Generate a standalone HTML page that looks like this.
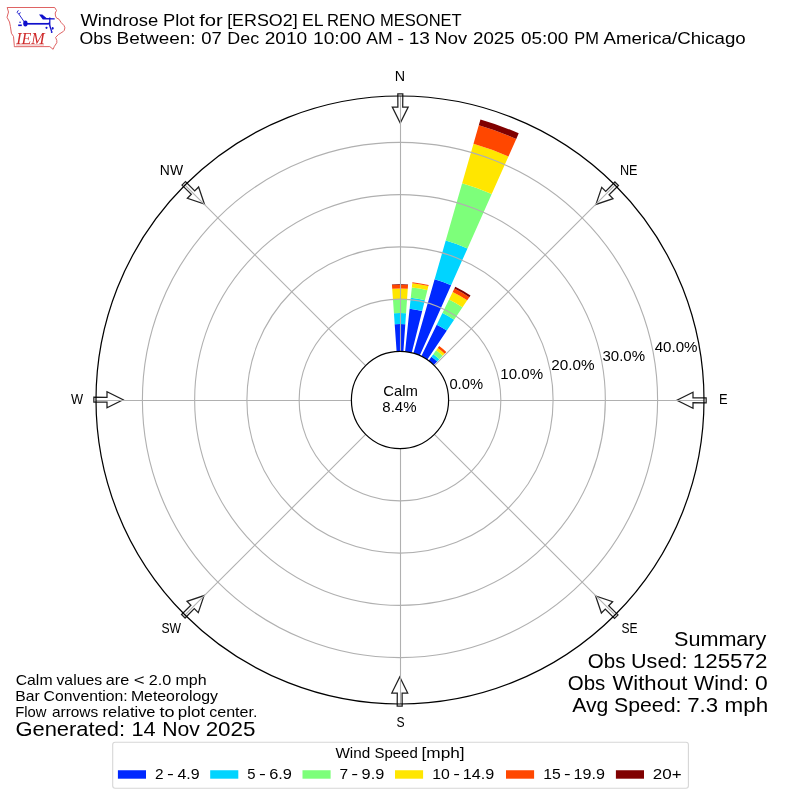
<!DOCTYPE html>
<html><head><meta charset="utf-8"><title>Windrose Plot for [ERSO2] EL RENO MESONET</title>
<style>
html,body{margin:0;padding:0;background:#fff}
svg{display:block;will-change:transform}
text{font-family:"Liberation Sans",sans-serif;fill:#000}
.s{font-family:"Liberation Serif",serif;font-style:italic;fill:#cf2a2a}
</style></head><body>
<svg width="800" height="800" viewBox="0 0 800 800">
<rect width="800" height="800" fill="#fff"/>
<g shape-rendering="geometricPrecision">
<path d="M396.61 351.52L394.7 324.26A75.93 75.93 0 0 1 405.3 324.26L403.39 351.52A48.6 48.6 0 0 0 396.61 351.52Z" fill="#0028ff"/>
<path d="M394.7 324.26L393.94 313.31A86.9 86.9 0 0 1 406.06 313.31L405.3 324.26A75.93 75.93 0 0 0 394.7 324.26Z" fill="#00d4ff"/>
<path d="M393.94 313.31L392.96 299.29A100.95 100.95 0 0 1 407.04 299.29L406.06 313.31A86.9 86.9 0 0 0 393.94 313.31Z" fill="#7dff7a"/>
<path d="M392.96 299.29L392.21 288.66A111.61 111.61 0 0 1 407.79 288.66L407.04 299.29A100.95 100.95 0 0 0 392.96 299.29Z" fill="#ffe600"/>
<path d="M392.21 288.66L391.96 285.01A115.27 115.27 0 0 1 408.04 285.01L407.79 288.66A111.61 111.61 0 0 0 392.21 288.66Z" fill="#ff4700"/>
<path d="M391.96 285.01L391.92 284.38A115.9 115.9 0 0 1 408.08 284.38L408.04 285.01A115.27 115.27 0 0 0 391.96 285.01Z" fill="#800000"/>
<path d="M405.08 351.67L409.59 308.74A91.76 91.76 0 0 1 422.2 310.97L411.76 352.84A48.6 48.6 0 0 0 405.08 351.67Z" fill="#0028ff"/>
<path d="M409.59 308.74L410.75 297.73A102.84 102.84 0 0 1 424.88 300.22L422.2 310.97A91.76 91.76 0 0 0 409.59 308.74Z" fill="#00d4ff"/>
<path d="M410.75 297.73L411.84 287.39A113.23 113.23 0 0 1 427.39 290.13L424.88 300.22A102.84 102.84 0 0 0 410.75 297.73Z" fill="#7dff7a"/>
<path d="M411.84 287.39L412.27 283.23A117.41 117.41 0 0 1 428.4 286.07L427.39 290.13A113.23 113.23 0 0 0 411.84 287.39Z" fill="#ffe600"/>
<path d="M412.27 283.23L412.38 282.24A118.41 118.41 0 0 1 428.65 285.11L428.4 286.07A117.41 117.41 0 0 0 412.27 283.23Z" fill="#ff4700"/>
<path d="M413.4 353.28L434.62 279.25A125.62 125.62 0 0 1 451.09 285.24L419.77 355.6A48.6 48.6 0 0 0 413.4 353.28Z" fill="#0028ff"/>
<path d="M434.62 279.25L445.74 240.48A165.95 165.95 0 0 1 467.5 248.39L451.09 285.24A125.62 125.62 0 0 0 434.62 279.25Z" fill="#00d4ff"/>
<path d="M445.74 240.48L462.15 183.27A225.47 225.47 0 0 1 491.71 194.03L467.5 248.39A165.95 165.95 0 0 0 445.74 240.48Z" fill="#7dff7a"/>
<path d="M462.15 183.27L473.5 143.69A266.64 266.64 0 0 1 508.45 156.41L491.71 194.03A225.47 225.47 0 0 0 462.15 183.27Z" fill="#ffe600"/>
<path d="M473.5 143.69L478.78 125.26A285.81 285.81 0 0 1 516.25 138.9L508.45 156.41A266.64 266.64 0 0 0 473.5 143.69Z" fill="#ff4700"/>
<path d="M478.78 125.26L480.45 119.43A291.88 291.88 0 0 1 518.72 133.36L516.25 138.9A285.81 285.81 0 0 0 478.78 125.26Z" fill="#800000"/>
<path d="M421.3 356.32L436.74 324.67A83.82 83.82 0 0 1 446.87 330.51L427.18 359.71A48.6 48.6 0 0 0 421.3 356.32Z" fill="#0028ff"/>
<path d="M436.74 324.67L442.45 312.97A96.83 96.83 0 0 1 454.14 319.73L446.87 330.51A83.82 83.82 0 0 0 436.74 324.67Z" fill="#00d4ff"/>
<path d="M442.45 312.97L449 299.54A111.77 111.77 0 0 1 462.5 307.34L454.14 319.73A96.83 96.83 0 0 0 442.45 312.97Z" fill="#7dff7a"/>
<path d="M449 299.54L452.68 291.98A120.18 120.18 0 0 1 467.21 300.36L462.5 307.34A111.77 111.77 0 0 0 449 299.54Z" fill="#ffe600"/>
<path d="M452.68 291.98L454.36 288.55A124 124 0 0 1 469.34 297.2L467.21 300.36A120.18 120.18 0 0 0 452.68 291.98Z" fill="#ff4700"/>
<path d="M454.36 288.55L455.27 286.67A126.09 126.09 0 0 1 470.51 295.47L469.34 297.2A124 124 0 0 0 454.36 288.55Z" fill="#800000"/>
<path d="M428.57 360.68L431.48 356.67A53.56 53.56 0 0 1 437.21 361.47L433.76 365.04A48.6 48.6 0 0 0 428.57 360.68Z" fill="#0028ff"/>
<path d="M431.48 356.67L433.3 354.17A56.65 56.65 0 0 1 439.35 359.25L437.21 361.47A53.56 53.56 0 0 0 431.48 356.67Z" fill="#00d4ff"/>
<path d="M433.3 354.17L436.12 350.28A61.45 61.45 0 0 1 442.69 355.79L439.35 359.25A56.65 56.65 0 0 0 433.3 354.17Z" fill="#7dff7a"/>
<path d="M436.12 350.28L437.81 347.96A64.33 64.33 0 0 1 444.69 353.73L442.69 355.79A61.45 61.45 0 0 0 436.12 350.28Z" fill="#ffe600"/>
<path d="M437.81 347.96L439.19 346.06A66.68 66.68 0 0 1 446.32 352.04L444.69 353.73A64.33 64.33 0 0 0 437.81 347.96Z" fill="#ff4700"/>
</g>
<g fill="#fff" stroke="#000" stroke-opacity="0.88" stroke-width="1.25" stroke-linejoin="miter">
<path d="M397.8 93.85L402.8 93.85L402.7 107L408.2 107L400.25 123.1L392.3 107L397.9 107Z" transform="rotate(0 400 400)"/>
<path d="M397.8 93.85L402.8 93.85L402.7 107L408.2 107L400.25 123.1L392.3 107L397.9 107Z" transform="rotate(45 400 400)"/>
<path d="M397.8 93.85L402.8 93.85L402.7 107L408.2 107L400.25 123.1L392.3 107L397.9 107Z" transform="rotate(90 400 400)"/>
<path d="M397.8 93.85L402.8 93.85L402.7 107L408.2 107L400.25 123.1L392.3 107L397.9 107Z" transform="rotate(135 400 400)"/>
<path d="M397.8 93.85L402.8 93.85L402.7 107L408.2 107L400.25 123.1L392.3 107L397.9 107Z" transform="rotate(180 400 400)"/>
<path d="M397.8 93.85L402.8 93.85L402.7 107L408.2 107L400.25 123.1L392.3 107L397.9 107Z" transform="rotate(225 400 400)"/>
<path d="M397.8 93.85L402.8 93.85L402.7 107L408.2 107L400.25 123.1L392.3 107L397.9 107Z" transform="rotate(270 400 400)"/>
<path d="M397.8 93.85L402.8 93.85L402.7 107L408.2 107L400.25 123.1L392.3 107L397.9 107Z" transform="rotate(315 400 400)"/>
</g>
<g fill="none" stroke="#b0b0b0" stroke-width="1.11">
<circle cx="400" cy="400" r="100.85"/>
<circle cx="400" cy="400" r="153.1"/>
<circle cx="400" cy="400" r="205.35"/>
<circle cx="400" cy="400" r="257.6"/>
<path d="M400.5 351.4L400.5 96"/>
<path d="M434.37 365.63L614.96 185.04"/>
<path d="M448.6 400.5L704 400.5"/>
<path d="M434.37 434.37L614.96 614.96"/>
<path d="M400.5 448.6L400.5 704"/>
<path d="M365.63 434.37L185.04 614.96"/>
<path d="M351.4 400.5L96 400.5"/>
<path d="M365.63 365.63L185.04 185.04"/>
</g>
<circle cx="400" cy="400" r="48.6" fill="#fff" stroke="#000" stroke-width="1.2"/>
<circle cx="400" cy="400" r="304" fill="none" stroke="#000" stroke-width="1.22"/>
<text y="25.6" font-size="16.5"><tspan x="80.42" textLength="77.86" lengthAdjust="spacingAndGlyphs">Windrose</tspan> <tspan x="162.95" textLength="31.62" lengthAdjust="spacingAndGlyphs">Plot</tspan> <tspan x="199.15" textLength="23.61" lengthAdjust="spacingAndGlyphs">for</tspan> <tspan x="227.15" textLength="70.51" lengthAdjust="spacingAndGlyphs">[ERSO2]</tspan> <tspan x="301.98" textLength="20.97" lengthAdjust="spacingAndGlyphs">EL</tspan> <tspan x="327" textLength="48.14" lengthAdjust="spacingAndGlyphs">RENO</tspan> <tspan x="379.99" textLength="81.69" lengthAdjust="spacingAndGlyphs">MESONET</tspan></text>
<text y="43.75" font-size="16.5"><tspan x="79.46" textLength="32.37" lengthAdjust="spacingAndGlyphs">Obs</tspan> <tspan x="116.61" textLength="79.02" lengthAdjust="spacingAndGlyphs">Between:</tspan> <tspan x="201.16" textLength="20.59" lengthAdjust="spacingAndGlyphs">07</tspan> <tspan x="227.32" textLength="31.84" lengthAdjust="spacingAndGlyphs">Dec</tspan> <tspan x="264.7" textLength="42.57" lengthAdjust="spacingAndGlyphs">2010</tspan> <tspan x="313.03" textLength="48.05" lengthAdjust="spacingAndGlyphs">10:00</tspan> <tspan x="366.28" textLength="26.39" lengthAdjust="spacingAndGlyphs">AM</tspan> <tspan x="397.29" textLength="6.8" lengthAdjust="spacingAndGlyphs">-</tspan> <tspan x="408.7" textLength="21.23" lengthAdjust="spacingAndGlyphs">13</tspan> <tspan x="434.57" textLength="32.45" lengthAdjust="spacingAndGlyphs">Nov</tspan> <tspan x="473" textLength="41.59" lengthAdjust="spacingAndGlyphs">2025</tspan> <tspan x="521.03" textLength="47.32" lengthAdjust="spacingAndGlyphs">05:00</tspan> <tspan x="574.24" textLength="24.62" lengthAdjust="spacingAndGlyphs">PM</tspan> <tspan x="603.45" textLength="142.33" lengthAdjust="spacingAndGlyphs">America/Chicago</tspan></text>
<text x="394.83" y="81" font-size="14.6" textLength="10.34" lengthAdjust="spacingAndGlyphs">N</text>
<text x="619.96" y="175" font-size="14.6" textLength="17.58" lengthAdjust="spacingAndGlyphs">NE</text>
<text x="718.94" y="404" font-size="14.6" textLength="8.61" lengthAdjust="spacingAndGlyphs">E</text>
<text x="621.45" y="633" font-size="14.6" textLength="16.06" lengthAdjust="spacingAndGlyphs">SE</text>
<text x="396.45" y="727" font-size="14.6" textLength="8.11" lengthAdjust="spacingAndGlyphs">S</text>
<text x="161.45" y="633" font-size="14.6" textLength="19.59" lengthAdjust="spacingAndGlyphs">SW</text>
<text x="70.94" y="404" font-size="14.6" textLength="12.1" lengthAdjust="spacingAndGlyphs">W</text>
<text x="159.86" y="175" font-size="14.6" textLength="23.19" lengthAdjust="spacingAndGlyphs">NW</text>
<text x="449.42" y="388.8" font-size="14.6" textLength="33.6" lengthAdjust="spacingAndGlyphs">0.0%</text>
<text x="500.35" y="379.2" font-size="14.6" textLength="42.68" lengthAdjust="spacingAndGlyphs">10.0%</text>
<text x="551.23" y="369.8" font-size="14.6" textLength="43.31" lengthAdjust="spacingAndGlyphs">20.0%</text>
<text x="602.43" y="360.8" font-size="14.6" textLength="42.61" lengthAdjust="spacingAndGlyphs">30.0%</text>
<text x="654.65" y="351.7" font-size="14.6" textLength="42.89" lengthAdjust="spacingAndGlyphs">40.0%</text>
<text x="383.24" y="396" font-size="14.6" textLength="34.74" lengthAdjust="spacingAndGlyphs">Calm</text>
<text x="382.35" y="412" font-size="14.6" textLength="34.19" lengthAdjust="spacingAndGlyphs">8.4%</text>
<text y="685" font-size="14.6"><tspan x="15.7" textLength="36.86" lengthAdjust="spacingAndGlyphs">Calm</tspan> <tspan x="56.47" textLength="45.65" lengthAdjust="spacingAndGlyphs">values</tspan> <tspan x="105.86" textLength="23.42" lengthAdjust="spacingAndGlyphs">are</tspan> <tspan x="133.65" textLength="10.82" lengthAdjust="spacingAndGlyphs">&lt;</tspan> <tspan x="148.76" textLength="22.45" lengthAdjust="spacingAndGlyphs">2.0</tspan> <tspan x="175.52" textLength="31.12" lengthAdjust="spacingAndGlyphs">mph</tspan></text>
<text y="701.3" font-size="14.6"><tspan x="15.21" textLength="24.5" lengthAdjust="spacingAndGlyphs">Bar</tspan> <tspan x="43.63" textLength="84.03" lengthAdjust="spacingAndGlyphs">Convention:</tspan> <tspan x="130.91" textLength="87.12" lengthAdjust="spacingAndGlyphs">Meteorology</tspan></text>
<text y="716.8" font-size="14.6"><tspan x="15.29" textLength="31.24" lengthAdjust="spacingAndGlyphs">Flow</tspan> <tspan x="51.92" textLength="46.31" lengthAdjust="spacingAndGlyphs">arrows</tspan> <tspan x="102.59" textLength="52.93" lengthAdjust="spacingAndGlyphs">relative</tspan> <tspan x="159.53" textLength="15.06" lengthAdjust="spacingAndGlyphs">to</tspan> <tspan x="177.75" textLength="27.27" lengthAdjust="spacingAndGlyphs">plot</tspan> <tspan x="209.23" textLength="48.21" lengthAdjust="spacingAndGlyphs">center.</tspan></text>
<text y="735.6" font-size="20.4"><tspan x="15.4" textLength="109.7" lengthAdjust="spacingAndGlyphs">Generated:</tspan> <tspan x="131.4" textLength="24.21" lengthAdjust="spacingAndGlyphs">14</tspan> <tspan x="162.2" textLength="37.67" lengthAdjust="spacingAndGlyphs">Nov</tspan> <tspan x="205.65" textLength="49.89" lengthAdjust="spacingAndGlyphs">2025</tspan></text>
<text x="674.02" y="645.6" font-size="20.4" textLength="92.32" lengthAdjust="spacingAndGlyphs">Summary</text>
<text y="667.5" font-size="20.4"><tspan x="587.83" textLength="37.61" lengthAdjust="spacingAndGlyphs">Obs</tspan> <tspan x="631.01" textLength="56.49" lengthAdjust="spacingAndGlyphs">Used:</tspan> <tspan x="692.8" textLength="74.63" lengthAdjust="spacingAndGlyphs">125572</tspan></text>
<text y="689.75" font-size="20.4"><tspan x="567.83" textLength="37.53" lengthAdjust="spacingAndGlyphs">Obs</tspan> <tspan x="612.48" textLength="74.88" lengthAdjust="spacingAndGlyphs">Without</tspan> <tspan x="694.07" textLength="54.78" lengthAdjust="spacingAndGlyphs">Wind:</tspan> <tspan x="754.96" textLength="12.73" lengthAdjust="spacingAndGlyphs">0</tspan></text>
<text y="711.9" font-size="20.4"><tspan x="572.26" textLength="36.12" lengthAdjust="spacingAndGlyphs">Avg</tspan> <tspan x="614.01" textLength="67.41" lengthAdjust="spacingAndGlyphs">Speed:</tspan> <tspan x="687.27" textLength="30.89" lengthAdjust="spacingAndGlyphs">7.3</tspan> <tspan x="724.62" textLength="43.63" lengthAdjust="spacingAndGlyphs">mph</tspan></text>
<rect x="112.7" y="742.2" width="575.7" height="46" rx="2.4" ry="2.4" fill="#fff" stroke="#d6d6d6" stroke-width="1.1"/>
<text y="758.25" font-size="14.6"><tspan x="335.43" textLength="34.76" lengthAdjust="spacingAndGlyphs">Wind</tspan> <tspan x="374.48" textLength="43.29" lengthAdjust="spacingAndGlyphs">Speed</tspan> <tspan x="421.52" textLength="43.11" lengthAdjust="spacingAndGlyphs">[mph]</tspan></text>
<rect x="117.9" y="770.25" width="28.1" height="8.45" fill="#0028ff"/>
<text y="778.9" font-size="14.6"><tspan x="155.03" textLength="8.57" lengthAdjust="spacingAndGlyphs">2</tspan> <tspan x="166.92" textLength="6.84" lengthAdjust="spacingAndGlyphs">-</tspan> <tspan x="177.49" textLength="22.17" lengthAdjust="spacingAndGlyphs">4.9</tspan></text>
<rect x="210.2" y="770.25" width="28.1" height="8.45" fill="#00d4ff"/>
<text y="778.9" font-size="14.6"><tspan x="247.3" textLength="8.27" lengthAdjust="spacingAndGlyphs">5</tspan> <tspan x="259.07" textLength="6.87" lengthAdjust="spacingAndGlyphs">-</tspan> <tspan x="269.22" textLength="22.75" lengthAdjust="spacingAndGlyphs">6.9</tspan></text>
<rect x="302.5" y="770.25" width="28.1" height="8.45" fill="#7dff7a"/>
<text y="778.9" font-size="14.6"><tspan x="339.41" textLength="8.62" lengthAdjust="spacingAndGlyphs">7</tspan> <tspan x="351.37" textLength="6.87" lengthAdjust="spacingAndGlyphs">-</tspan> <tspan x="361.59" textLength="22.68" lengthAdjust="spacingAndGlyphs">9.9</tspan></text>
<rect x="395" y="770.25" width="28.1" height="8.45" fill="#ffe600"/>
<text y="778.9" font-size="14.6"><tspan x="432.2" textLength="17.56" lengthAdjust="spacingAndGlyphs">10</tspan> <tspan x="453.16" textLength="6.71" lengthAdjust="spacingAndGlyphs">-</tspan> <tspan x="462.66" textLength="31.51" lengthAdjust="spacingAndGlyphs">14.9</tspan></text>
<rect x="506" y="770.25" width="28.1" height="8.45" fill="#ff4700"/>
<text y="778.9" font-size="14.6"><tspan x="543.2" textLength="17.52" lengthAdjust="spacingAndGlyphs">15</tspan> <tspan x="564.06" textLength="6.67" lengthAdjust="spacingAndGlyphs">-</tspan> <tspan x="573.51" textLength="31.35" lengthAdjust="spacingAndGlyphs">19.9</tspan></text>
<rect x="615.9" y="770.25" width="28.1" height="8.45" fill="#800000"/>
<text y="778.9" font-size="14.6"><tspan x="652.89" textLength="28.84" lengthAdjust="spacingAndGlyphs">20+</tspan></text>
<g fill="none" stroke="#d84848" stroke-width="0.95" stroke-linejoin="round" stroke-opacity="0.9"><path d="M7.2 7.5L54.7 7.5L56.5 10.5L55.2 13L55.5 16L56.6 18.1L59 19.2L61 22.4L64 25.5L64.9 27.8L64.2 30.5L63.4 31.4L58.5 34.5L55.6 37.4L56.8 40.5L56.8 42.7L54.3 46.5L53.1 49.3L49.8 46.6L14.3 46.7L14.3 45.5L13.5 36.5L11.4 33.2L10.4 26.5L9.5 22L7 17.3L8.5 12Z"/><path d="M16 44.9L44 44.9" stroke-width="0.6"/></g>
<g stroke="#1010cc" fill="#1010cc" stroke-linecap="butt"><path d="M25 23.8L49.8 23.8" stroke-width="1.7"/><ellipse cx="25.4" cy="23.6" rx="2.2" ry="3" stroke="none"/><path d="M25.4 23.6L19.1 14.4M18.4 10.3L17.1 12.3L19.1 14.4L20.4 12.3" stroke-width="0.9" fill="none"/><path d="M39 14.4L42.3 14.4L46.5 17.9L54.7 18.3L54.7 19.5L42.8 19.4Z" stroke="none"/><path d="M49.8 17.6L49.8 25.6" stroke-width="1.2"/><path d="M47.6 23.8L49.8 21.6L49.8 23.8Z" stroke="none"/><path d="M49.6 25L51.5 31" stroke-width="1.3"/><ellipse cx="46.5" cy="27.8" rx="1.05" ry="1.15" stroke="none"/><ellipse cx="52.7" cy="28.3" rx="0.95" ry="1.4" stroke="none"/><ellipse cx="51.7" cy="32" rx="0.9" ry="1.1" stroke="none"/><rect x="19.3" y="21.7" width="1.5" height="1.1" stroke="none"/><rect x="18.2" y="24.5" width="3.6" height="1.6" stroke="none"/></g>
<text class="s" x="16.2" y="44.1" font-size="17" textLength="28.6" lengthAdjust="spacingAndGlyphs">IEM</text>
</svg></body></html>
